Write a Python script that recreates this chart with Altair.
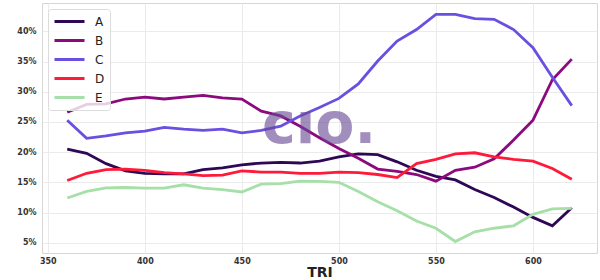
import altair as alt
import pandas as pd

tri = [360, 370, 380, 390, 400, 410, 420, 430, 440, 450, 460, 470, 480, 490,
       500, 510, 520, 530, 540, 550, 560, 570, 580, 590, 600, 610, 620]

series_names = ["A", "B", "C", "D", "E"]
series_colors = ["#2e0854", "#8b0a7d", "#6a4fe0", "#ff1a3a", "#a6dfa8"]

A = [20.5, 19.8, 18.1, 16.9, 16.5, 16.4, 16.4, 17.1, 17.4, 17.9, 18.2, 18.3, 18.2, 18.5,
     19.2, 19.7, 19.6, 18.4, 17.0, 16.0, 15.4, 13.8, 12.5, 10.9, 9.2, 7.8, 10.8]
B = [26.6, 27.9, 28.0, 28.8, 29.1, 28.8, 29.1, 29.4, 29.0, 28.8, 26.8, 26.0, 24.3, 22.4,
     20.6, 19.0, 17.2, 16.8, 16.3, 15.2, 17.0, 17.5, 18.9, 22.0, 25.3, 32.0, 35.4]
C = [25.3, 22.3, 22.7, 23.2, 23.5, 24.1, 23.8, 23.6, 23.8, 23.2, 23.6, 24.3, 26.0, 27.4,
     28.9, 31.3, 35.1, 38.4, 40.3, 42.8, 42.8, 42.1, 42.0, 40.3, 37.3, 32.4, 27.7]
D = [15.3, 16.5, 17.1, 17.2, 17.0, 16.6, 16.4, 16.1, 16.2, 16.9, 16.7, 16.7, 16.5, 16.5,
     16.7, 16.6, 16.3, 15.8, 18.1, 18.8, 19.7, 19.9, 19.2, 18.8, 18.5, 17.3, 15.5]
E = [12.4, 13.5, 14.1, 14.15, 14.05, 14.05, 14.6, 14.05, 13.8, 13.4, 14.7, 14.8, 15.2, 15.15,
     15.0, 13.5, 11.8, 10.3, 8.6, 7.4, 5.2, 6.8, 7.4, 7.8, 9.7, 10.6, 10.7]

x_ticks = [350, 400, 450, 500, 550, 600]
y_ticks = [0.05, 0.10, 0.15, 0.20, 0.25, 0.30, 0.35, 0.40]

rows = []
for name, vals in zip(series_names, [A, B, C, D, E]):
    for t, v in zip(tri, vals):
        rows.append({"TRI": t, "share": v / 100.0, "series": name})
df = pd.DataFrame(rows)

lines = alt.Chart(df).mark_line(strokeWidth=2.8).encode(
    x=alt.X("TRI:Q",
            scale=alt.Scale(domain=[347, 633], nice=False, zero=False),
            axis=alt.Axis(values=x_ticks, title="TRI", labelPadding=4, titlePadding=0,
                          titleFontSize=14, titleFontWeight="bold", titleColor="#222222")),
    y=alt.Y("share:Q",
            scale=alt.Scale(domain=[0.033, 0.447], nice=False, zero=False),
            axis=alt.Axis(values=y_ticks, format=".0%", title=None, labelPadding=6)),
    color=alt.Color("series:N",
                    scale=alt.Scale(domain=series_names, range=series_colors),
                    legend=alt.Legend(title=None, orient="none", legendX=6, legendY=6,
                                      symbolType="stroke", symbolSize=900,
                                      symbolStrokeWidth=3, clipHeight=15, rowPadding=4,
                                      labelFontSize=12, labelFont="DejaVu Sans",
                                      labelColor="#222222", labelOffset=9, padding=5,
                                      strokeColor="#dcdcdc", fillColor="rgba(255,255,255,0.8)",
                                      cornerRadius=3)),
    order=alt.Order("TRI:Q"),
)

mark_df = pd.DataFrame({"t": ["cıo."]})
watermark = alt.Chart(mark_df).mark_text(
    font="DejaVu Sans", fontSize=57, fontWeight="bold", color="#6a4a96",
    opacity=0.62, align="center", baseline="alphabetic",
).encode(x=alt.value(277), y=alt.value(140), text="t:N")

chart = alt.layer(lines, watermark).properties(
    width=555, height=250,
    autosize=alt.AutoSizeParams(type="none"),
    padding={"left": 42, "top": 3, "right": 3, "bottom": 27},
).configure_view(
    stroke="#d6d6d6", strokeWidth=1,
).configure_axis(
    grid=True, gridColor="#ebebeb", gridWidth=1, domain=False, ticks=False,
    labelFont="DejaVu Sans", labelFontSize=8, labelFontWeight="bold", labelColor="#333333",
    titleFont="DejaVu Sans",
)

chart.save("out.html", embed_options={"renderer": "svg", "actions": False})
